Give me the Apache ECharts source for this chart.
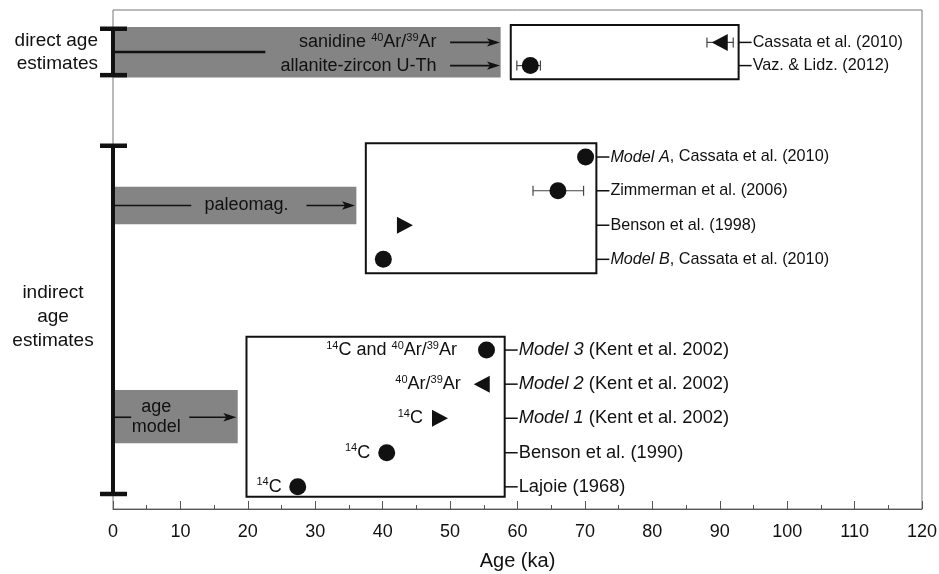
<!DOCTYPE html>
<html>
<head>
<meta charset="utf-8">
<script src="https://cdn.jsdelivr.net/npm/echarts@6/dist/echarts.min.js"></script>
<style>
  html, body { margin: 0; background: #fff; }
  #chart-container { width: 939px; height: 574px; }
</style>
</head>
<body>
<div id="chart-container"></div>
<script>
// ages per reference, listed top to bottom
const refItalic = ['', '', 'Model A', '', '', 'Model B', 'Model 3', 'Model 2', 'Model 1', '', ''];
const refText = ['Cassata et al. (2010)', 'Vaz. & Lidz. (2012)', ', Cassata et al. (2010)',
  'Zimmerman et al. (2006)', 'Benson et al. (1998)', ', Cassata et al. (2010)',
  ' (Kent et al. 2002)', ' (Kent et al. 2002)', ' (Kent et al. 2002)',
  'Benson et al. (1990)', 'Lajoie (1968)'];
const rowSlot = [13.68, 13.0, 10.32, 9.33, 8.32, 7.32, 4.66, 3.66, 2.66, 1.65, 0.65];
const rowGroup = [0, 0, 1, 1, 1, 1, 2, 2, 2, 2, 2];
const ageKa = [90.0, 61.9, 70.1, 66.0, 43.3, 40.1, 55.4, 54.7, 48.5, 40.6, 27.4];
const ageLow = [88.1, 59.9, null, 62.3, null, null, null, null, null, null, null];
const ageHigh = [92.0, 63.4, null, 69.8, null, null, null, null, null, null, null];
const marker = ['left', 'circle', 'circle', 'circle', 'right', 'circle', 'circle', 'left', 'right', 'circle', 'circle'];
const methodNote = ['', '', '', '', '', '',
  '{s|14}C and {s|40}Ar/{s|39}Ar', '{s|40}Ar/{s|39}Ar', '{s|14}C', '{s|14}C', '{s|14}C'];

// result boxes and method bands (0 direct, 1 paleomag, 2 age model)
const boxFrom = [59.0, 37.5, 19.8];
const boxTo = [92.8, 71.7, 58.1];
const boxLow = [12.6, 6.91, 0.36];
const boxHigh = [14.19, 10.72, 5.05];
const bandTo = [57.5, 36.1, 18.5];
const bandLow = [12.65, 8.35, 1.93];
const bandHigh = [14.13, 9.45, 3.49];

// brackets on the left
const bracketName = ['direct age\nestimates', 'indirect\nage\nestimates'];
const bracketLow = [12.72, 0.44];
const bracketHigh = [14.08, 10.65];

const FONT = '"Liberation Sans", Arial, Helvetica, sans-serif';
const INK = '#111';
const GREY = '#848484';
const refSize = [16.2, 16.2, 18.3];

const sup = { fontSize: 11, fontFamily: FONT, fill: INK, color: INK, verticalAlign: 'top', lineHeight: 20 };

let dom = document.getElementById('chart-container');
let myChart = echarts.init(dom, null, { renderer: 'canvas' });

function arrow(x1, x2, y) {
  return [
    { type: 'line', shape: { x1: x1, y1: y, x2: x2 - 10, y2: y }, style: { stroke: INK, lineWidth: 1.6 } },
    { type: 'polygon', shape: { points: [[x2, y], [x2 - 13, y - 4.2], [x2 - 10, y], [x2 - 13, y + 4.2]] }, style: { fill: INK } }
  ];
}

function txt(x, y, text, align, extra) {
  return {
    type: 'text', x: x, y: y,
    style: Object.assign({
      text: text, fill: INK, fontSize: 18, fontFamily: FONT,
      align: align, textAlign: align, verticalAlign: 'middle', textVerticalAlign: 'middle',
      lineHeight: 20,
      rich: { s: sup }
    }, extra || {})
  };
}

function renderBand(params, api) {
  const i = params.dataIndex;
  const a = api.coord([0, bandHigh[i]]);
  const b = api.coord([bandTo[i], bandLow[i]]);
  const kids = [{ type: 'rect', shape: { x: a[0], y: a[1], width: b[0] - a[0], height: b[1] - a[1] }, style: { fill: GREY } }];
  const px = v => api.coord([v, 0])[0];
  const py = v => api.coord([0, v])[1];
  if (i === 0) {
    kids.push({ type: 'line', shape: { x1: px(0), y1: py(13.4), x2: px(22.6), y2: py(13.4) }, style: { stroke: INK, lineWidth: 2.5 } });
    [0, 1].forEach(r => {
      kids.push(...arrow(px(50), px(57.4), py(rowSlot[r])));
    });
    kids.push(txt(px(48.0), py(rowSlot[0]), 'sanidine {s|40}Ar/{s|39}Ar', 'right'));
    kids.push(txt(px(48.0), py(rowSlot[1]), 'allanite-zircon U-Th', 'right'));
  } else if (i === 1) {
    const y = py(8.9);
    kids.push({ type: 'line', shape: { x1: px(0), y1: y, x2: px(11.6), y2: y }, style: { stroke: INK, lineWidth: 1.6 } });
    kids.push(txt(px(19.8), y, 'paleomag.', 'center'));
    kids.push(...arrow(px(28.7), px(35.9), y));
  } else {
    const y = py(2.69);
    kids.push({ type: 'line', shape: { x1: px(0), y1: y, x2: px(2.7), y2: y }, style: { stroke: INK, lineWidth: 1.6 } });
    kids.push(txt(px(6.4), y, 'age\nmodel', 'center'));
    kids.push(...arrow(px(11.3), px(18.3), y));
  }
  return { type: 'group', children: kids };
}

function renderBox(params, api) {
  const i = params.dataIndex;
  const a = api.coord([boxFrom[i], boxHigh[i]]);
  const b = api.coord([boxTo[i], boxLow[i]]);
  const fs = refSize[i];
  const kids = [{ type: 'rect', shape: { x: a[0], y: a[1], width: b[0] - a[0], height: b[1] - a[1] }, style: { fill: '#fff', stroke: INK, lineWidth: 2 } }];
  rowGroup.forEach((g, r) => {
    if (g !== i) return;
    const y = api.coord([0, rowSlot[r]])[1];
    kids.push({ type: 'line', shape: { x1: b[0], y1: y, x2: b[0] + 13, y2: y }, style: { stroke: INK, lineWidth: 1.5 } });
    const label = (refItalic[r] ? '{i|' + refItalic[r] + '}' : '') + '{n|' + refText[r] + '}';
    kids.push(txt(b[0] + 14, y, label, 'left', {
      fontSize: fs,
      rich: {
        i: { fontSize: fs, fontFamily: FONT, fontStyle: 'italic', fill: INK },
        n: { fontSize: fs, fontFamily: FONT, fill: INK }
      }
    }));
  });
  return { type: 'group', children: kids };
}

function renderErr(params, api) {
  const r = params.dataIndex;
  if (ageLow[r] == null) return;
  const a = api.coord([ageLow[r], rowSlot[r]]);
  const b = api.coord([ageHigh[r], rowSlot[r]]);
  const st = { stroke: '#444', lineWidth: 1.2 };
  return {
    type: 'group', children: [
      { type: 'line', shape: { x1: a[0], y1: a[1], x2: b[0], y2: b[1] }, style: st },
      { type: 'line', shape: { x1: a[0], y1: a[1] - 5, x2: a[0], y2: a[1] + 5 }, style: st },
      { type: 'line', shape: { x1: b[0], y1: b[1] - 5, x2: b[0], y2: b[1] + 5 }, style: st }
    ]
  };
}

function renderBracket(params, api) {
  const i = params.dataIndex;
  const t = api.coord([0, bracketHigh[i]]);
  const b = api.coord([0, bracketLow[i]]);
  const x = t[0];
  const kids = [
    { type: 'line', shape: { x1: x, y1: t[1], x2: x, y2: b[1] }, style: { stroke: INK, lineWidth: 4 } },
    { type: 'line', shape: { x1: x - 13, y1: t[1], x2: x + 14, y2: t[1] }, style: { stroke: INK, lineWidth: 4.5 } },
    { type: 'line', shape: { x1: x - 13, y1: b[1], x2: x + 14, y2: b[1] }, style: { stroke: INK, lineWidth: 4.5 } }
  ];
  const mid = (t[1] + b[1]) / 2;
  if (i === 0) {
    kids.push(txt(x - 15, mid, bracketName[i], 'right', { fontSize: 19, lineHeight: 23 }));
  } else {
    kids.push(txt(x - 60, mid - 3, bracketName[i], 'center', { fontSize: 19, lineHeight: 24 }));
  }
  return { type: 'group', children: kids };
}

const symbolOf = {
  circle: 'circle',
  left: 'path://M10,0 L0,5.5 L10,11 Z',
  right: 'path://M0,0 L10,5.5 L0,11 Z'
};
const noteGap = [0, 0, 0, 0, 0, 0, 21, 13, 9, 8, 7.5];

const option = {
  animation: false,
  grid: { left: 113, right: 17, top: 10, bottom: 65, show: true, borderColor: '#777', borderWidth: 1, outerBoundsMode: 'none' },
  xAxis: {
    type: 'value', min: 0, max: 120, interval: 10,
    name: 'Age (ka)', nameLocation: 'middle', nameGap: 42,
    nameTextStyle: { fontSize: 20, color: INK, fontFamily: FONT },
    axisLine: { show: true, lineStyle: { color: '#555', width: 1 } },
    axisTick: { show: true, inside: true, length: 8, lineStyle: { color: '#555' } },
    minorTick: { show: true, splitNumber: 2, length: 4, lineStyle: { color: '#555' } },
    axisLabel: { fontSize: 18, color: INK, margin: 14, fontFamily: FONT },
    splitLine: { show: false }
  },
  yAxis: { type: 'value', min: 0, max: 14.63, show: false, splitLine: { show: false } },
  series: [
    { type: 'custom', silent: true, z: 1, renderItem: renderBand, data: bandTo.map((v, i) => [i, 0]) },
    { type: 'custom', silent: true, z: 2, renderItem: renderBox, data: boxTo.map((v, i) => [i, 0]) },
    { type: 'custom', silent: true, z: 3, renderItem: renderErr, data: ageKa.map((v, i) => [i, 0]) },
    { type: 'custom', silent: true, z: 4, clip: false, renderItem: renderBracket, data: bracketLow.map((v, i) => [i, 0]) },
    {
      type: 'scatter', silent: true, z: 5,
      itemStyle: { color: INK, opacity: 1 },
      label: {
        position: 'left', color: INK, fontSize: 18, fontFamily: FONT,
        rich: { s: { fontSize: 11, fontFamily: FONT, color: INK, verticalAlign: 'top', lineHeight: 20 } }
      },
      data: ageKa.map((x, i) => ({
        value: [x, rowSlot[i]],
        symbol: symbolOf[marker[i]],
        symbolSize: marker[i] === 'circle' ? 17 : [16, 17],
        label: methodNote[i] ? { show: true, formatter: methodNote[i], distance: noteGap[i] } : { show: false }
      }))
    }
  ]
};

myChart.setOption(option);
window.addEventListener('resize', myChart.resize);
</script>
</body>
</html>
